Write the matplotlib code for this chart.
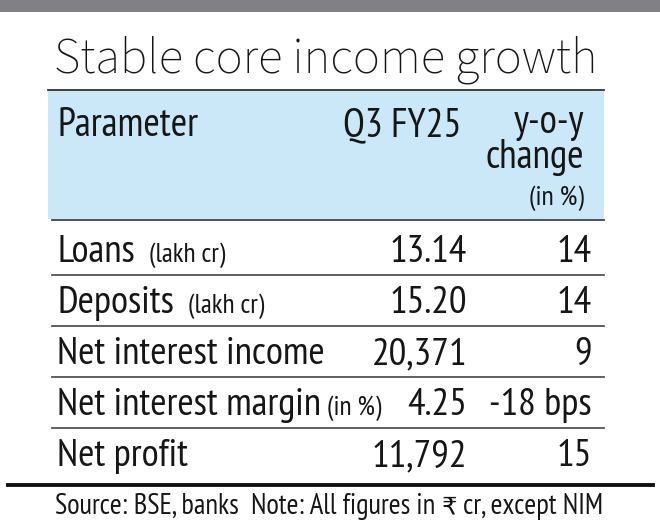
import matplotlib.pyplot as plt
from matplotlib.patches import Rectangle

title = "Stable core income growth"
header = ["Parameter", "Q3 FY25", "y-o-y", "change"]
header_note = "(in %)"
parameters = ["Loans", "Deposits", "Net interest income", "Net interest margin", "Net profit"]
units = ["(lakh cr)", "(lakh cr)", "", "(in %)", ""]
q3_fy25 = ["13.14", "15.20", "20,371", "4.25", "11,792"]
yoy_change = ["14", "14", "9", "-18 bps", "15"]
footer = ["Source: BSE, banks  Note: All figures in ", "\u20b9", " cr, except NIM"]

W, H = 660, 525
NARROW = ["PT Sans Narrow", "DejaVu Sans"]
TEXT = "#161616"

fig = plt.figure(figsize=(W / 100, H / 100), dpi=100)
ax = fig.add_axes([0, 0, 1, 1])
ax.set_xlim(0, W)
ax.set_ylim(H, 0)
ax.axis("off")
renderer = fig.canvas.get_renderer()


def fit_text(x, y, s, width, **kw):
    # size the text so that it spans the given width in pixels
    t = ax.text(x, y, s, fontsize=20, va="baseline", color=TEXT, **kw)
    w = t.get_window_extent(renderer).width
    t.set_fontsize(20 * width / w)
    return t


def right_edge(t):
    return t.get_window_extent(renderer).transformed(ax.transData.inverted()).x1


# grey band on top
ax.add_patch(Rectangle((0, 0), W, 12, color="#808085", lw=0))

fit_text(54, 72, title, 543, family=["Source Sans 3", "DejaVu Sans"],
         fontweight="light")

# header block
ax.add_patch(Rectangle((48, 91), 556, 128, color="#cbe8f8", lw=0))
ax.plot([48, 604], [90, 90], color="#333333", lw=1.3)
ax.plot([52, 604], [220, 220], color="#444444", lw=1.3)

head = fit_text(57, 136, header[0], 141, family=NARROW)
hs = head.get_fontsize()
ax.text(461, 136, header[1], fontsize=hs, family=NARROW, color=TEXT,
        va="baseline", ha="right")
ax.text(584, 133, header[2], fontsize=hs, family=NARROW, color=TEXT,
        va="baseline", ha="right")
ax.text(584, 168, header[3], fontsize=hs, family=NARROW, color=TEXT,
        va="baseline", ha="right")
ax.text(584, 205, header_note, fontsize=hs * 0.7, family=NARROW, color=TEXT,
        va="baseline", ha="right")

row_top = 224
row_h = 51
ref = fit_text(-500, -500, parameters[2], 267, family=NARROW)
fs = ref.get_fontsize()
ref.remove()
for i, name in enumerate(parameters):
    base = row_top + 38 + i * row_h
    t = ax.text(57, base, name, fontsize=fs, family=NARROW, color=TEXT, va="baseline")
    if units[i]:
        gap = 14 if name in ("Loans", "Deposits") else 6
        ax.text(right_edge(t) + gap, base, units[i], fontsize=fs * 0.7, family=NARROW,
                color=TEXT, va="baseline")
    ax.text(467, base, q3_fy25[i], fontsize=fs, family=NARROW, color=TEXT,
            va="baseline", ha="right")
    ax.text(592, base, yoy_change[i], fontsize=fs, family=NARROW, color=TEXT,
            va="baseline", ha="right")
    if i < len(parameters) - 1:
        y = row_top + 51 + i * row_h
        ax.plot([52, 604], [y, y], color="#444444", lw=1.2)

ax.plot([8, 653], [485, 485], color="#111111", lw=2.8)

# footer: the rupee sign comes from DejaVu Sans, PT Sans Narrow draws it wrong
ref = fit_text(-500, -500, "".join(footer), 545, family=NARROW)
ffs = ref.get_fontsize()
ref.remove()
x = 55
for k, part in enumerate(footer):
    fam = ["DejaVu Sans"] if part == "\u20b9" else NARROW
    size = ffs * 0.85 if part == "\u20b9" else ffs
    t = ax.text(x, 514, part, fontsize=size, family=fam, color=TEXT, va="baseline")
    x = right_edge(t)

fig.savefig("out.png", dpi=100)
